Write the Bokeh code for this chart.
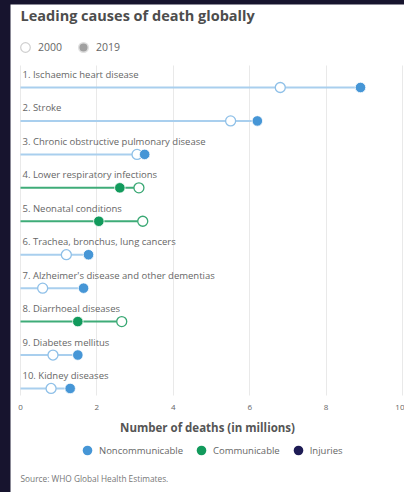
from bokeh.plotting import figure
from bokeh.models import (ColumnDataSource, Range1d, Label, Legend, LegendItem,
                          FixedTicker, LinearAxis, Grid)
from bokeh.core.properties import value
from bokeh.embed import file_html
from bokeh.resources import INLINE

causes = ["1. Ischaemic heart disease", "2. Stroke",
          "3. Chronic obstructive pulmonary disease", "4. Lower respiratory infections",
          "5. Neonatal conditions", "6. Trachea, bronchus, lung cancers",
          "7. Alzheimer's disease and other dementias", "8. Diarrhoeal diseases",
          "9. Diabetes mellitus", "10. Kidney diseases"]
deaths_2000 = [6.8, 5.5, 3.05, 3.1, 3.2, 1.2, 0.58, 2.65, 0.85, 0.8]
deaths_2019 = [8.9, 6.2, 3.25, 2.6, 2.05, 1.78, 1.65, 1.5, 1.5, 1.3]
groups = ["Noncommunicable", "Noncommunicable", "Noncommunicable", "Communicable",
          "Communicable", "Noncommunicable", "Noncommunicable", "Communicable",
          "Noncommunicable", "Noncommunicable"]
x_ticks = [0, 2, 4, 6, 8, 10]

FONT = "Open Sans"
dot_col = {"Noncommunicable": "#4696d6", "Communicable": "#129a5c", "Injuries": "#1e1c55"}
line_col = {"Noncommunicable": "#a9cfee", "Communicable": "#3fac78"}
ring_col = {"Noncommunicable": "#8fc0e8", "Communicable": "#3aa874"}

rows = list(range(len(causes)))
src = ColumnDataSource(dict(
    cause=causes, y=rows, zero=[0] * len(rows),
    d2000=deaths_2000, d2019=deaths_2019,
    dmax=[max(a, b) for a, b in zip(deaths_2000, deaths_2019)],
    dot=[dot_col[g] for g in groups],
    line=[line_col[g] for g in groups],
    ring=[ring_col[g] for g in groups],
))

# frame covers the whole canvas; rows are 1 unit apart
p = figure(width=394, height=488, output_backend="svg", toolbar_location=None,
           x_range=Range1d(-0.262, 10.052), y_range=Range1d(12.111, -2.482),
           min_border=0, background_fill_color="white",
           border_fill_color="white", outline_line_color=None, x_axis_location=None,
           y_axis_location=None)
p.grid.visible = False

PLOT_TOP, PLOT_BOTTOM = -0.66, 9.21

grid = Grid(dimension=0, ticker=FixedTicker(ticks=x_ticks),
            grid_line_color="#e9e9e9", grid_line_width=1)
try:
    grid.cross_bounds = (PLOT_BOTTOM, PLOT_TOP)
except Exception:
    pass
p.add_layout(grid)

xaxis = LinearAxis(ticker=FixedTicker(ticks=x_ticks), fixed_location=PLOT_BOTTOM)
xaxis.axis_line_color = None
xaxis.major_tick_line_color = None
xaxis.minor_tick_line_color = None
xaxis.major_label_text_font = FONT
xaxis.major_label_text_font_size = "8px"
xaxis.major_label_text_color = "#666666"
xaxis.major_label_standoff = 4
xaxis.axis_label = "Number of deaths (in millions)"
xaxis.axis_label_text_font = FONT
xaxis.axis_label_text_font_style = "bold"
xaxis.axis_label_text_font_size = "11.5px"
xaxis.axis_label_text_color = "#555555"
xaxis.axis_label_standoff = 6
p.add_layout(xaxis, "below")

p.segment(x0="zero", y0="y", x1="dmax", y1="y", source=src, line_color="line",
          line_width=2)
p.text(x="zero", y="y", text="cause", source=src, x_offset=2, y_offset=-13,
       text_font=value(FONT), text_font_size="9.5px", text_color="#666666",
       text_baseline="middle")
p.scatter(x="d2000", y="y", source=src, size=10, fill_color="white",
          line_color="ring", line_width=1.3)
p.scatter(x="d2019", y="y", source=src, size=10.5, fill_color="dot",
          line_color="white", line_width=0.8)

# legend-only renderers (a single NaN point, so nothing is drawn in the plot)
NAN = float("nan")
r_open = p.scatter(x=[NAN], y=[NAN], size=10, fill_color="white", line_color="#cfcfcf",
                   line_width=1.2)
r_fill = p.scatter(x=[NAN], y=[NAN], size=10, fill_color="#a0a0a0", line_color="#e0e0e0",
                   line_width=1.5)
r_nc = p.scatter(x=[NAN], y=[NAN], size=10, fill_color=dot_col["Noncommunicable"],
                 line_color=None)
r_c = p.scatter(x=[NAN], y=[NAN], size=10, fill_color=dot_col["Communicable"],
                line_color=None)
r_inj = p.scatter(x=[NAN], y=[NAN], size=10, fill_color=dot_col["Injuries"],
                  line_color=None)

top_leg = Legend(items=[LegendItem(label="2000", renderers=[r_open]),
                        LegendItem(label="2019", renderers=[r_fill])],
                 orientation="horizontal", location=(3, 433),
                 label_text_font=FONT, label_text_font_size="10.5px",
                 label_text_color="#666666", glyph_width=24, glyph_height=24,
                 label_standoff=1, spacing=9, padding=0, margin=0,
                 border_line_color=None, background_fill_alpha=0)
p.add_layout(top_leg, "center")

bot_leg = Legend(items=[LegendItem(label="Noncommunicable", renderers=[r_nc]),
                        LegendItem(label="Communicable", renderers=[r_c]),
                        LegendItem(label="Injuries", renderers=[r_inj])],
                 orientation="horizontal", location=(65, 30),
                 label_text_font=FONT, label_text_font_size="9.5px",
                 label_text_color="#666666", glyph_width=24, glyph_height=24,
                 label_standoff=0, spacing=6, padding=0, margin=0,
                 border_line_color=None, background_fill_alpha=0)
p.add_layout(bot_leg, "center")

title = Label(x=0, y=-2.153, text="Leading causes of death globally", text_font=FONT,
              text_font_size="14.5px", text_font_style="bold", text_color="#4d4d4d",
              text_baseline="middle")
p.add_layout(title)
source_lbl = Label(x=0, y=11.69, text="Source: WHO Global Health Estimates.",
                   text_font=FONT, text_font_size="8.3px", text_color="#777777",
                   text_baseline="middle")
p.add_layout(source_lbl)

html = file_html(p, INLINE)
html = html.replace("<head>", "<head><style>body{margin:4px 0 0 10px !important;"
                    "background:#17142e;}</style>", 1)
open("out.html", "w").write(html)
